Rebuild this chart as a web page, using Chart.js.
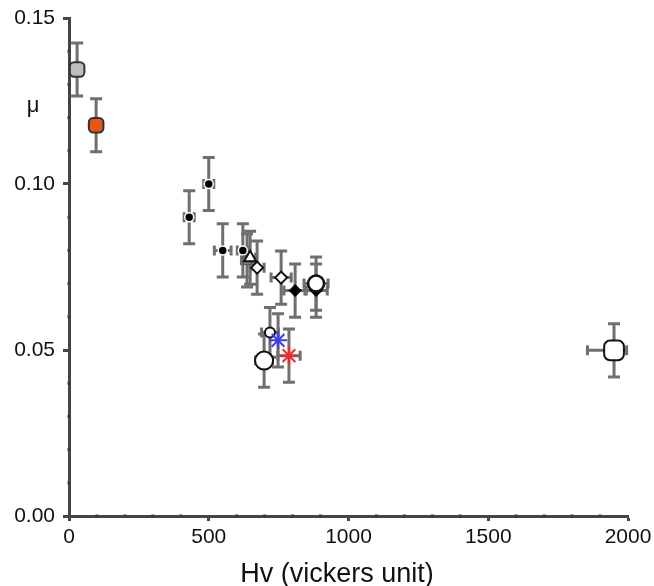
<!DOCTYPE html>
<html>
<head>
<meta charset="utf-8">
<script src="https://cdn.jsdelivr.net/npm/chart.js@4/dist/chart.umd.min.js"></script>
<style>
  html, body { margin: 0; padding: 0; background: #ffffff; }
  #wrap { width: 654px; height: 586px; }
</style>
</head>
<body>
<div id="wrap"><canvas id="c" width="654" height="586"></canvas></div>
<script>
// Friction coefficient (mu) against Vickers hardness (Hv), with error bars.

// Axis tick labels
const xTickLabels = [0, 500, 1000, 1500, 2000];
const yTickLabels = [0.00, 0.05, 0.10, 0.15];

// Each series: hardness, friction, and their error half-widths
const greySqHv = [29];           const greySqMu = [0.1345];
const greySqHvErr = [0];         const greySqMuErr = [0.008];

const orangeSqHv = [97];         const orangeSqMu = [0.1177];
const orangeSqHvErr = [0];       const orangeSqMuErr = [0.008];

const dotHv = [430, 500, 550, 622];
const dotMu = [0.090, 0.100, 0.080, 0.080];
const dotHvErr = [18, 18, 30, 20];
const dotMuErr = [0.008, 0.008, 0.008, 0.008];

const darkSqHv = [637];          const darkSqMu = [0.0770];
const darkSqHvErr = [20];        const darkSqMuErr = [0.008];

const triHv = [648];             const triMu = [0.0778];
const triHvErr = [20];           const triMuErr = [0.008];

const openDiaHv = [673, 759];    const openDiaMu = [0.0748, 0.0718];
const openDiaHvErr = [25, 36];   const openDiaMuErr = [0.008, 0.008];

const blackDiaHv = [809, 884];   const blackDiaMu = [0.0679, 0.0679];
const blackDiaHvErr = [40, 40];  const blackDiaMuErr = [0.008, 0.008];

const ringHv = [884];            const ringMu = [0.0700];
const ringHvErr = [43];          const ringMuErr = [0.008];

const smallRingHv = [719];       const smallRingMu = [0.0553];
const smallRingHvErr = [30];     const smallRingMuErr = [0.0075];

const bigRingHv = [698];         const bigRingMu = [0.0468];
const bigRingHvErr = [30];       const bigRingMuErr = [0.008];

const blueStarHv = [748];        const blueStarMu = [0.0529];
const blueStarHvErr = [0];       const blueStarMuErr = [0.008];

const redStarHv = [787];         const redStarMu = [0.0483];
const redStarHvErr = [40];       const redStarMuErr = [0.008];

const openSqHv = [1950];         const openSqMu = [0.0499];
const openSqHvErrLo = [95];      const openSqHvErrHi = [45];
const openSqMuErr = [0.008];

function series(label, hv, mu, hvLo, hvHi, muErr, style) {
  return Object.assign({
    label: label,
    data: hv.map((v, i) => ({ x: v, y: mu[i], xLo: hvLo[i], xHi: hvHi[i], yErr: muErr[i] })),
    showLine: false,
    pointHoverRadius: 0
  }, style);
}

const datasets = [
  series('S1', greySqHv, greySqMu, greySqHvErr, greySqHvErr, greySqMuErr,
    { pointStyle: 'rectRounded', pointRadius: 8.5, backgroundColor: '#bdbdbd', borderColor: '#333333', borderWidth: 2 }),
  series('S2', orangeSqHv, orangeSqMu, orangeSqHvErr, orangeSqHvErr, orangeSqMuErr,
    { pointStyle: 'rectRounded', pointRadius: 8.5, backgroundColor: '#e4570e', borderColor: '#333333', borderWidth: 2 }),
  series('S3', dotHv, dotMu, dotHvErr, dotHvErr, dotMuErr,
    { pointStyle: 'circle', pointRadius: 4.5, backgroundColor: '#000000', borderColor: '#ffffff', borderWidth: 1.5 }),
  series('S4', darkSqHv, darkSqMu, darkSqHvErr, darkSqHvErr, darkSqMuErr,
    { pointStyle: 'rect', pointRadius: 6, backgroundColor: '#7a7a7a', borderColor: '#555555', borderWidth: 1 }),
  series('S5', triHv, triMu, triHvErr, triHvErr, triMuErr,
    { pointStyle: 'triangle', pointRadius: 7, backgroundColor: '#ffffff', borderColor: '#111111', borderWidth: 2 }),
  series('S6', openDiaHv, openDiaMu, openDiaHvErr, openDiaHvErr, openDiaMuErr,
    { pointStyle: 'rectRot', pointRadius: 6, backgroundColor: '#ffffff', borderColor: '#111111', borderWidth: 2 }),
  series('S7', blackDiaHv, blackDiaMu, blackDiaHvErr, blackDiaHvErr, blackDiaMuErr,
    { pointStyle: 'rectRot', pointRadius: 6, backgroundColor: '#000000', borderColor: '#000000', borderWidth: 1 }),
  series('S8', ringHv, ringMu, ringHvErr, ringHvErr, ringMuErr,
    { pointStyle: 'circle', pointRadius: 8, backgroundColor: '#ffffff', borderColor: '#111111', borderWidth: 2.5 }),
  series('S9', smallRingHv, smallRingMu, smallRingHvErr, smallRingHvErr, smallRingMuErr,
    { pointStyle: 'circle', pointRadius: 5, backgroundColor: '#ffffff', borderColor: '#111111', borderWidth: 2 }),
  series('S10', bigRingHv, bigRingMu, bigRingHvErr, bigRingHvErr, bigRingMuErr,
    { pointStyle: 'circle', pointRadius: 9, backgroundColor: '#ffffff', borderColor: '#111111', borderWidth: 2 }),
  series('S11', blueStarHv, blueStarMu, blueStarHvErr, blueStarHvErr, blueStarMuErr,
    { pointStyle: 'star', pointRadius: 9, backgroundColor: '#3b3bf0', borderColor: '#3b3bf0', borderWidth: 2 }),
  series('S12', redStarHv, redStarMu, redStarHvErr, redStarHvErr, redStarMuErr,
    { pointStyle: 'star', pointRadius: 9, backgroundColor: '#f02828', borderColor: '#f02828', borderWidth: 2 }),
  series('S13', openSqHv, openSqMu, openSqHvErrLo, openSqHvErrHi, openSqMuErr,
    { pointStyle: 'rectRounded', pointRadius: 11.5, backgroundColor: '#ffffff', borderColor: '#111111', borderWidth: 2 })
];
// later series sit underneath earlier-listed overlays: draw in listed order
datasets.forEach((d, i) => { d.order = datasets.length - i; });

// Error bars, drawn from each point's value and error through the scales
const errorBars = {
  id: 'errorBars',
  beforeDatasetsDraw(chart) {
    const { ctx, scales: { x, y } } = chart;
    ctx.save();
    ctx.strokeStyle = '#6f6f6f';
    ctx.lineWidth = 3;
    ctx.lineCap = 'butt';
    chart.data.datasets.forEach(ds => {
      ds.data.forEach(p => {
        const px = x.getPixelForValue(p.x);
        const py = y.getPixelForValue(p.y);
        if (p.yErr) {
          const t = y.getPixelForValue(p.y + p.yErr);
          const b = y.getPixelForValue(p.y - p.yErr);
          ctx.beginPath();
          ctx.moveTo(px, t); ctx.lineTo(px, b);
          ctx.moveTo(px - 6, t); ctx.lineTo(px + 6, t);
          ctx.moveTo(px - 6, b); ctx.lineTo(px + 6, b);
          ctx.stroke();
        }
        if (p.xLo || p.xHi) {
          const l = x.getPixelForValue(p.x - p.xLo);
          const r = x.getPixelForValue(p.x + p.xHi);
          ctx.beginPath();
          ctx.moveTo(l, py); ctx.lineTo(r, py);
          ctx.moveTo(l, py - 5); ctx.lineTo(l, py + 5);
          ctx.moveTo(r, py - 5); ctx.lineTo(r, py + 5);
          ctx.stroke();
        }
      });
    });
    ctx.restore();
  }
};

// Minor tick dots along both axes, plus the mu label and x title
const axisDecor = {
  id: 'axisDecor',
  afterDraw(chart) {
    const { ctx, scales: { x, y }, chartArea } = chart;
    ctx.save();
    ctx.fillStyle = '#3a3a3a';
    for (let v = 100; v < 2000; v += 100) {
      if (v % 500 === 0) continue;
      const px = x.getPixelForValue(v);
      ctx.fillRect(px - 1.5, chartArea.bottom - 1.5, 3, 3);
    }
    for (let k = 1; k < 15; k++) {
      if (k % 5 === 0) continue;
      const py = y.getPixelForValue(k / 100);
      ctx.fillRect(chartArea.left - 1.5, py - 1.5, 3, 3);
    }
    ctx.fillStyle = '#111111';
    ctx.textAlign = 'center';
    ctx.textBaseline = 'alphabetic';
    ctx.font = '22px "Liberation Sans", Arial, sans-serif';
    ctx.fillText('\u03bc', 33, 112);
    ctx.font = '27px "Liberation Sans", Arial, sans-serif';
    ctx.fillText('Hv (vickers unit)', 337, 582);
    ctx.restore();
  }
};

const isMajorX = v => Math.round(v) % 500 === 0;
const isMajorY = v => Math.round(v * 100) % 5 === 0;

// Drop the automatic end-label padding so the plot frame is set by layout.padding
function clearScalePadding(scale) {
  scale.paddingTop = 0;
  scale.paddingBottom = 0;
  scale.paddingLeft = 0;
  scale.paddingRight = 0;
}

new Chart(document.getElementById('c'), {
  type: 'scatter',
  data: { datasets: datasets },
  options: {
    responsive: false,
    animation: false,
    devicePixelRatio: 1,
    layout: { padding: { left: 0, top: 18, right: 26, bottom: 0 } },
    plugins: { legend: { display: false }, tooltip: { enabled: false } },
    scales: {
      x: {
        type: 'linear',
        min: xTickLabels[0],
        max: xTickLabels[xTickLabels.length - 1],
        afterFit(scale) { scale.height = 70; clearScalePadding(scale); },
        afterBuildTicks(scale) {
          const t = [];
          for (let v = xTickLabels[0]; v <= xTickLabels[xTickLabels.length - 1]; v += 100) t.push({ value: v });
          scale.ticks = t;
        },
        border: { display: true, color: '#444444', width: 3 },
        grid: {
          drawOnChartArea: false,
          drawTicks: true,
          tickLength: 5,
          tickWidth: 3,
          tickColor: ctx => isMajorX(ctx.tick.value) ? '#444444' : 'rgba(0,0,0,0)'
        },
        ticks: {
          autoSkip: false,
          maxRotation: 0,
          padding: 4,
          color: '#111111',
          font: { family: '"Liberation Sans", Arial, sans-serif', size: 21 },
          callback: v => (xTickLabels.includes(Math.round(v)) ? String(Math.round(v)) : '')
        }
      },
      y: {
        type: 'linear',
        min: yTickLabels[0],
        max: yTickLabels[yTickLabels.length - 1],
        afterFit(scale) { scale.width = 69; clearScalePadding(scale); },
        afterBuildTicks(scale) {
          const t = [];
          for (let k = 0; k <= 15; k++) t.push({ value: k / 100 });
          scale.ticks = t;
        },
        border: { display: true, color: '#444444', width: 3 },
        grid: {
          drawOnChartArea: false,
          drawTicks: true,
          tickLength: 6,
          tickWidth: 3,
          tickColor: ctx => isMajorY(ctx.tick.value) ? '#444444' : 'rgba(0,0,0,0)'
        },
        ticks: {
          autoSkip: false,
          padding: 8,
          color: '#111111',
          font: { family: '"Liberation Sans", Arial, sans-serif', size: 21 },
          callback: v => (isMajorY(v) ? v.toFixed(2) : '')
        }
      }
    }
  },
  plugins: [errorBars, axisDecor]
});
</script>
</body>
</html>
